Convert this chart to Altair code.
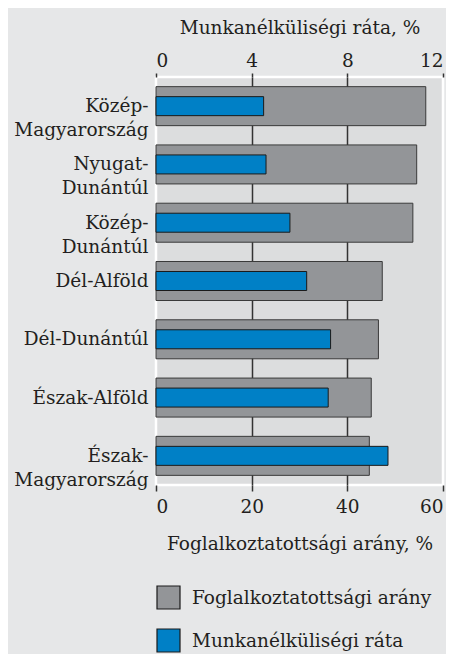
import altair as alt
import pandas as pd

regions = ["Közép-\nMagyarország", "Nyugat-\nDunántúl", "Közép-\nDunántúl", "Dél-Alföld",
           "Dél-Dunántúl", "Észak-Alföld", "Észak-\nMagyarország"]
employment = [56.4, 54.5, 53.7, 47.3, 46.5, 45.0, 44.6]   # Foglalkoztatottsági arány, %
unemployment = [4.5, 4.6, 5.6, 6.3, 7.3, 7.2, 9.7]          # Munkanélküliségi ráta, %
series = ["Foglalkoztatottsági arány", "Munkanélküliségi ráta"]
colors = ["#939598", "#0080c6"]

df = pd.DataFrame({"region": regions, "emp": employment, "unemp": unemployment,
                   "s_emp": series[0], "s_unemp": series[1]})

FONT = "DejaVu Serif"
TXT = "#231f20"
FS = 18.5

y_enc = alt.Y("region:N", sort=regions, title=None,
              scale=alt.Scale(paddingInner=0, paddingOuter=0),
              axis=alt.Axis(labelExpr="split(datum.label, '\\n')", labelFontSize=FS,
                            labelLineHeight=24, labelPadding=8, ticks=False, domain=False,
                            labelColor=TXT, labelFont=FONT, grid=False))

color_scale = alt.Scale(domain=series, range=colors)

gray = alt.Chart(df).mark_bar(size=39, stroke="#3a3a3a", strokeWidth=1).encode(
    x=alt.X("emp:Q", scale=alt.Scale(domain=[0, 60], nice=False),
            axis=alt.Axis(orient="bottom", values=[0, 20, 40, 60], title="Foglalkoztatottsági arány, %",
                          grid=True, gridColor="#333333", gridWidth=1.5,
                          gridOpacity={"condition": {"test": "datum.value == 0 || datum.value == 60", "value": 0}, "value": 1},
                          domain=False, tickSize=6, tickColor="#333333", tickWidth=1.5,
                          labelFontSize=FS, labelPadding=6, labelColor=TXT, labelFont=FONT,
                          titleFontSize=FS, titleFontWeight="normal", titlePadding=19,
                          titleColor=TXT, titleFont=FONT)),
    y=y_enc,
    color=alt.Color("s_emp:N", scale=color_scale,
                    legend=alt.Legend(title=None, orient="none", legendX=0, legendY=508,
                                      direction="vertical", symbolType="square", symbolSize=529,
                                      symbolStrokeColor="#3a3a3a", symbolStrokeWidth=1.2,
                                      labelFontSize=FS, labelFont=FONT, labelColor=TXT,
                                      labelLimit=0, labelOffset=11, rowPadding=14, symbolOpacity=1)),
)

blue = alt.Chart(df).mark_bar(size=19, stroke="#1a1a1a", strokeWidth=1).encode(
    x=alt.X("unemp:Q", scale=alt.Scale(domain=[0, 12], nice=False),
            axis=alt.Axis(orient="top", values=[0, 4, 8, 12], title="Munkanélküliségi ráta, %",
                          grid=False, domain=False, tickSize=4, tickColor="#333333", tickWidth=1.5,
                          labelFontSize=FS, labelPadding=3, labelColor=TXT, labelFont=FONT,
                          titleFontSize=FS, titleFontWeight="normal", titlePadding=14,
                          titleColor=TXT, titleFont=FONT)),
    y=y_enc,
    color=alt.Color("s_unemp:N", scale=color_scale),
)

chart = alt.layer(gray, blue).resolve_scale(x="independent").properties(
    width=287, height=408, background="#e6e7e8",
    padding={"left": 5, "top": 10, "right": 2, "bottom": 2},
).configure_view(fill="#dcddde", stroke="white", strokeWidth=2.5)

chart.save("out.html", embed_options={"renderer": "svg", "actions": False})
